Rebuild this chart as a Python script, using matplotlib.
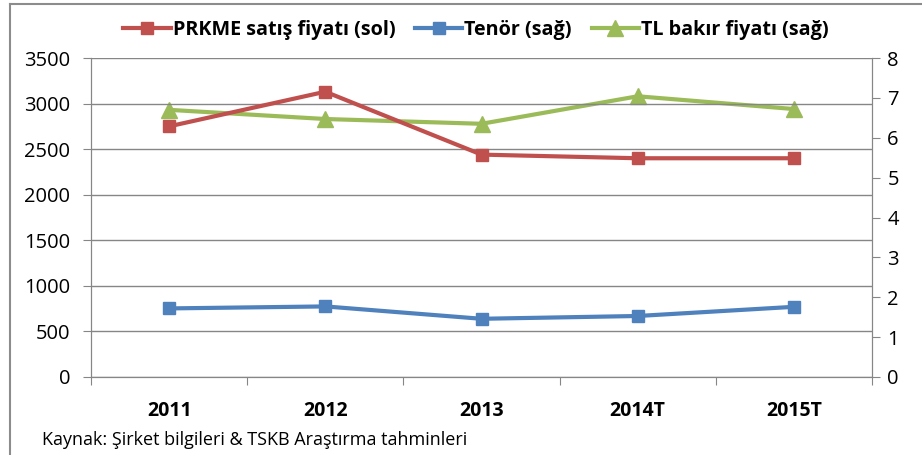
import matplotlib.pyplot as plt
from matplotlib.lines import Line2D

plt.rcParams['font.family'] = ['Open Sans', 'DejaVu Sans']

# Data
years = ['2011', '2012', '2013', '2014T', '2015T']
prkme_price = [2750, 3130, 2440, 2400, 2400]      # left axis
tenor = [1.72, 1.77, 1.46, 1.53, 1.76]            # right axis
tl_copper = [6.70, 6.47, 6.35, 7.04, 6.72]        # right axis

red = '#c0504d'
blue = '#4f81bd'
green = '#9bbb59'
grid_gray = '#868686'

fig = plt.figure(figsize=(9.22, 4.55), dpi=100)
ax1 = fig.add_axes([91 / 922, 1 - 377 / 455, 781 / 922, 319 / 455])
ax2 = ax1.twinx()

x = list(range(len(years)))
l1, = ax1.plot(x, prkme_price, color=red, lw=3, marker='s', ms=9,
               label='PRKME satış fiyatı (sol)', zorder=3)
l2, = ax2.plot(x, tenor, color=blue, lw=3, marker='s', ms=9,
               label='Tenör (sağ)', zorder=3)
l3, = ax2.plot(x, tl_copper, color=green, lw=3, marker='^', ms=11,
               label='TL bakır fiyatı (sağ)', zorder=3)

ax1.set_xlim(-0.5, 4.5)
ax1.set_ylim(0, 3500)
ax1.set_yticks(range(0, 3501, 500))
ax2.set_ylim(0, 8)
ax2.set_yticks(range(0, 9))

ax1.set_xticks([i - 0.5 for i in range(6)])
ax1.set_xticklabels([])
ax1.set_xticks(x, minor=True)
ax1.set_xticklabels(years, minor=True, fontsize=14, fontweight='bold')
ax1.tick_params(axis='x', which='minor', length=0, pad=17)
ax1.tick_params(axis='x', which='major', length=6, color=grid_gray, direction='out')
ax1.tick_params(axis='y', labelsize=14.5, length=6, color=grid_gray, pad=9)
ax2.tick_params(axis='y', labelsize=14.5, length=6, color=grid_gray, pad=5)

ax1.grid(axis='y', color=grid_gray, lw=1)
ax1.set_axisbelow(True)
for ax in (ax1, ax2):
    ax.spines['top'].set_visible(False)
    for s in ('left', 'right', 'bottom'):
        ax.spines[s].set_color(grid_gray)
ax1.set_zorder(ax2.get_zorder() + 1)
ax1.patch.set_visible(False)

fig.legend(handles=[l1, l2, l3], loc='center', bbox_to_anchor=(476 / 922, 1 - 30 / 455),
           ncol=3, frameon=False, prop={'size': 14.2, 'weight': 'bold'},
           handlelength=2.4, columnspacing=1.0, handletextpad=0.1)

fig.text(42 / 922, 1 - 440 / 455, 'Kaynak: Şirket bilgileri & TSKB Araştırma tahminleri',
         fontsize=13, va='center', ha='left')

# outer frame (left and top edges visible)
fig.add_artist(Line2D([10 / 922, 10 / 922], [0, 1 - 4 / 455], transform=fig.transFigure,
                      color='#8c8c8c', lw=1.5))
fig.add_artist(Line2D([10 / 922, 1], [1 - 4 / 455, 1 - 4 / 455], transform=fig.transFigure,
                      color='#8c8c8c', lw=1.5))

fig.savefig('out.png', dpi=100)
